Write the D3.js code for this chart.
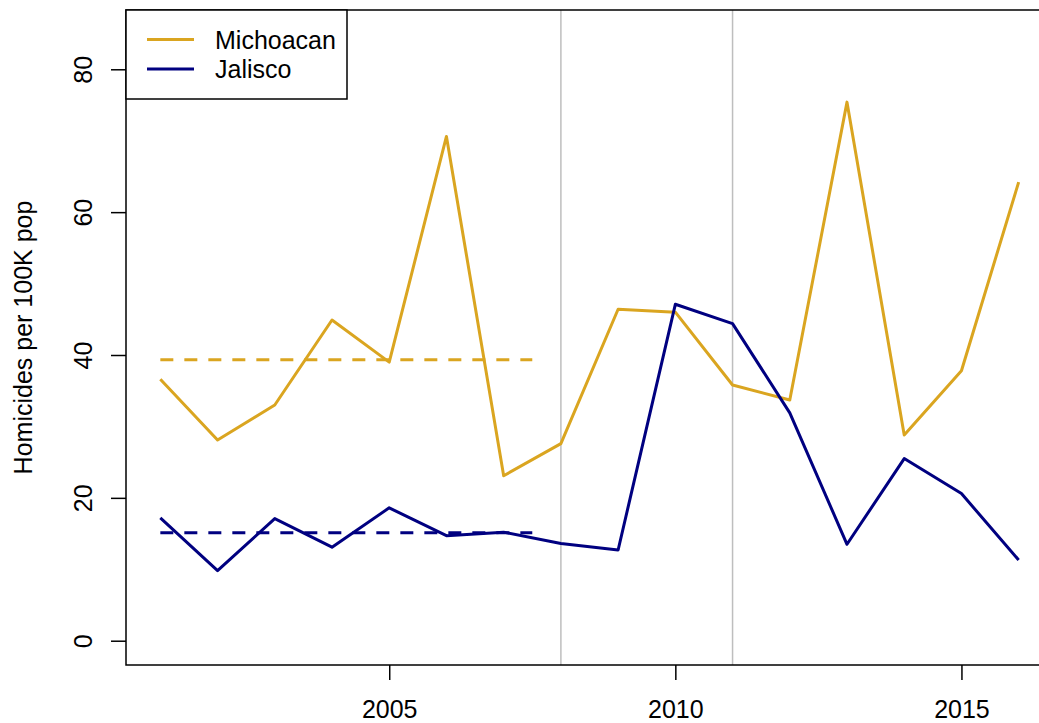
<!DOCTYPE html>
<html>
<head>
<meta charset="utf-8">
<script src="https://cdn.jsdelivr.net/npm/d3@7"></script>
<style>
  html, body { margin: 0; padding: 0; background: #fff; }
  svg { display: block; }
  text { font-family: "Liberation Sans", Arial, sans-serif; fill: #000; }
</style>
</head>
<body>
<svg id="chart" width="1039" height="723"></svg>
<script>
// Homicide rates per 100K population, 2001-2016
const years = [2001, 2002, 2003, 2004, 2005, 2006, 2007, 2008,
               2009, 2010, 2011, 2012, 2013, 2014, 2015, 2016];
const michoacan = [36.6, 28.1, 33.0, 44.9, 39.0, 70.6, 23.1, 27.6,
                   46.4, 46.0, 35.8, 33.7, 75.4, 28.8, 37.8, 64.2];
const jalisco   = [17.2, 9.8, 17.1, 13.1, 18.6, 14.7, 15.2, 13.6,
                   12.7, 47.1, 44.4, 31.9, 13.5, 25.5, 20.6, 11.3];
const seriesNames = ["Michoacan", "Jalisco"];
const seriesColors = ["#DAA520", "#000080"];
const xTicks = [2005, 2010, 2015];
const yTicks = [0, 20, 40, 60, 80];
const markerYears = [2008, 2011];
const baselinePeriod = [2001, 2007];      // years averaged for the dashed reference
const baselineSpan = [2001, 2007.5];      // horizontal extent of the dashed reference
const yLabel = "Homicides per 100K pop";

const svg = d3.select("#chart");
const plot = { left: 126, right: 1053, top: 10, bottom: 665 };

const x = d3.scaleLinear().domain([2000.4, 2016.6]).range([plot.left, plot.right]);
const y = d3.scaleLinear().domain([-3.4, 88.3]).range([plot.bottom, plot.top]);

const series = seriesNames.map((name, i) => ({
  name,
  color: seriesColors[i],
  values: years.map((yr, j) => ({ year: yr, value: [michoacan, jalisco][i][j] }))
}));

// vertical reference lines
svg.append("g").selectAll("line").data(markerYears).join("line")
  .attr("x1", d => x(d)).attr("x2", d => x(d))
  .attr("y1", plot.top).attr("y2", plot.bottom)
  .attr("stroke", "#bebebe").attr("stroke-width", 1.5);

// series lines
const line = d3.line().x(d => x(d.year)).y(d => y(d.value));
svg.append("g").selectAll("path").data(series).join("path")
  .attr("d", d => line(d.values))
  .attr("fill", "none")
  .attr("stroke", d => d.color)
  .attr("stroke-width", 3)
  .attr("stroke-linejoin", "round");

// dashed period means
svg.append("g").selectAll("line").data(series).join("line")
  .each(function (d) {
    d.mean = d3.mean(d.values.filter(v => v.year >= baselinePeriod[0] && v.year <= baselinePeriod[1]), v => v.value);
  })
  .attr("x1", x(baselineSpan[0])).attr("x2", x(baselineSpan[1]))
  .attr("y1", d => y(d.mean)).attr("y2", d => y(d.mean))
  .attr("stroke", d => d.color)
  .attr("stroke-width", 3)
  .attr("stroke-dasharray", "13,11");

// plot frame
svg.append("rect")
  .attr("x", plot.left).attr("y", plot.top)
  .attr("width", plot.right - plot.left).attr("height", plot.bottom - plot.top)
  .attr("fill", "none").attr("stroke", "#000").attr("stroke-width", 1.5);

// x axis
const xAxis = svg.append("g")
  .attr("transform", `translate(0,${plot.bottom})`)
  .call(d3.axisBottom(x).tickValues(xTicks).tickFormat(d3.format("d"))
        .tickSize(15).tickSizeOuter(0));
xAxis.select(".domain").remove();
xAxis.selectAll(".tick line").attr("stroke", "#000").attr("stroke-width", 1.5);
xAxis.selectAll(".tick text")
  .attr("y", 53).attr("dy", 0)
  .style("font-size", "25px");

// y axis
const yAxis = svg.append("g")
  .attr("transform", `translate(${plot.left},0)`)
  .call(d3.axisLeft(y).tickValues(yTicks).tickSize(15).tickSizeOuter(0));
yAxis.select(".domain").remove();
yAxis.selectAll(".tick line").attr("stroke", "#000").attr("stroke-width", 1.5);
yAxis.selectAll(".tick text")
  .attr("x", null).attr("dy", null)
  .attr("text-anchor", "middle")
  .attr("transform", "translate(-34,0) rotate(-90)")
  .style("font-size", "25px");

// y axis title
svg.append("text")
  .attr("transform", `translate(32,${(plot.top + plot.bottom) / 2}) rotate(-90)`)
  .attr("text-anchor", "middle")
  .style("font-size", "25px")
  .text(yLabel);

// legend
const legend = svg.append("g");
legend.append("rect")
  .attr("x", plot.left).attr("y", plot.top)
  .attr("width", 221).attr("height", 89)
  .attr("fill", "#fff").attr("stroke", "#000").attr("stroke-width", 1.5);
const items = legend.selectAll("g.item").data(series).join("g")
  .attr("class", "item")
  .attr("transform", (d, i) => `translate(0,${39.5 + i * 29.5})`);
items.append("line")
  .attr("x1", 147).attr("x2", 194)
  .attr("stroke", d => d.color).attr("stroke-width", 3);
items.append("text")
  .attr("x", 215).attr("y", 9)
  .style("font-size", "25px")
  .text(d => d.name);
</script>
</body>
</html>
